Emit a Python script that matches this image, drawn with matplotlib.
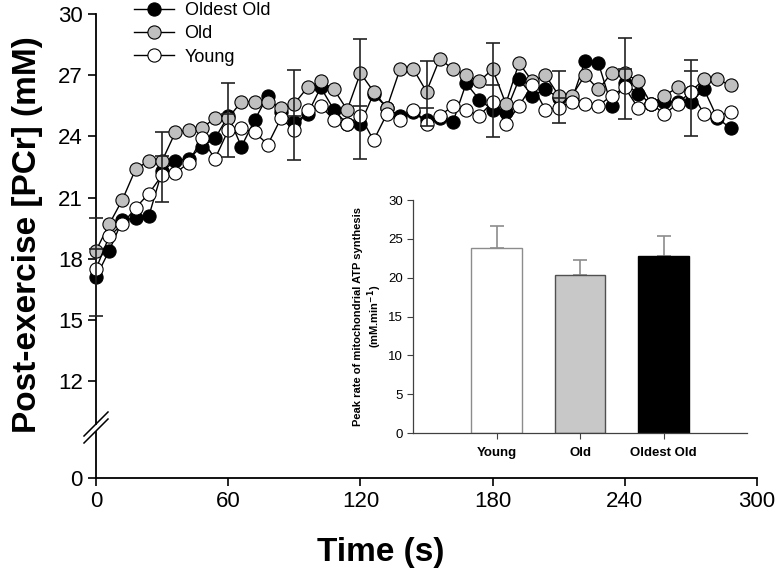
import matplotlib
matplotlib.use('Agg')
import matplotlib.pyplot as plt
from matplotlib.lines import Line2D

plt.rcParams['font.family'] = ['Liberation Sans', 'DejaVu Sans']

# PCr recovery, sampled every 6 s
time = list(range(0, 289, 6))

oldest_old = [17.1, 18.4, 19.9, 20.0, 20.1, 22.3, 22.8, 22.9, 23.5, 23.9,
              25.0, 23.5, 24.8, 26.0, 25.2, 24.7, 25.1, 26.4, 25.3, 24.6,
              24.6, 26.1, 25.4, 25.0, 25.2, 24.8, 24.9, 24.7, 26.6, 25.8,
              25.3, 25.2, 26.8, 26.0, 26.3, 25.9, 25.8, 27.7, 27.6, 25.5,
              26.6, 26.1, 25.6, 25.7, 25.7, 25.7, 26.3, 24.9, 24.4]

old = [18.4, 19.7, 20.9, 22.4, 22.8, 22.8, 24.2, 24.3, 24.4, 24.9,
       24.9, 25.7, 25.7, 25.7, 25.4, 25.6, 26.4, 26.7, 26.3, 25.3,
       27.1, 26.2, 25.4, 27.3, 27.3, 26.2, 27.8, 27.3, 27.0, 26.7,
       27.3, 25.6, 27.6, 26.7, 27.0, 26.0, 26.0, 27.0, 26.3, 27.1,
       27.1, 26.7, 25.6, 26.0, 26.4, 26.2, 26.8, 26.8, 26.5]

young = [17.5, 19.1, 19.7, 20.5, 21.2, 22.1, 22.2, 22.7, 23.9, 22.9,
         24.3, 24.4, 24.2, 23.6, 24.9, 24.3, 25.3, 25.5, 24.8, 24.6,
         25.0, 23.8, 25.1, 24.8, 25.3, 24.6, 25.0, 25.5, 25.3, 25.0,
         25.7, 24.6, 25.5, 26.5, 25.3, 25.4, 25.7, 25.6, 25.5, 26.0,
         26.4, 25.4, 25.6, 25.1, 25.6, 26.2, 25.1, 25.0, 25.2]

# error bars every 30 s (upper, middle and lower caps)
eb_time = [0, 30, 60, 90, 120, 150, 180, 210, 240, 270]
eb_hi = [20.0, 24.2, 26.6, 27.25, 28.75, 27.7, 28.6, 27.2, 28.8, 27.75]
eb_mid = [18.5, 23.05, 25.1, 25.0, 25.5, 25.4, 26.5, 25.9, 27.3, 27.2]
eb_lo = [15.2, 20.8, 23.0, 22.85, 22.9, 24.5, 23.95, 24.65, 24.85, 24.0]

# inset: peak rate of mitochondrial ATP synthesis
groups = ['Young', 'Old', 'Oldest Old']
rates = [23.8, 20.3, 22.85]
rate_err = [2.9, 2.0, 2.5]

W, H = 780, 576


def box(x0, y0, x1, y1):
    return [x0 / W, 1 - y1 / H, (x1 - x0) / W, (y1 - y0) / H]


fig = plt.figure(figsize=(7.8, 5.76), dpi=100)

ppm = 20.4  # pixels per mM
ax = fig.add_axes(box(96, 14, 757, 424))
axb = fig.add_axes(box(96, 432, 757, 478))

ax.set_xlim(0, 300)
axb.set_xlim(0, 300)
ax.set_ylim(30 - (424 - 14) / ppm, 30)
axb.set_ylim(0, (478 - 432) / ppm)

for a in (ax, axb):
    a.spines['top'].set_visible(False)
    a.spines['right'].set_visible(False)
    a.spines['left'].set_linewidth(1.3)
    a.tick_params(width=1.2, length=6, labelsize=16, direction='out')
ax.spines['bottom'].set_visible(False)
axb.spines['bottom'].set_linewidth(1.3)
ax.set_xticks([])
ax.set_yticks([12, 15, 18, 21, 24, 27, 30])
axb.set_yticks([0])
axb.set_xticks([0, 60, 120, 180, 240, 300])

ms = 9.5
ax.plot(time, oldest_old, '-o', color='black', lw=1.0, ms=ms,
        mfc='black', mec='black', mew=0.8, label='Oldest Old', clip_on=False, zorder=3)
ax.plot(time, old, '-o', color='black', lw=1.0, ms=ms,
        mfc='#c0c0c0', mec='black', mew=0.8, label='Old', clip_on=False, zorder=3)
ax.plot(time, young, '-o', color='black', lw=1.0, ms=ms,
        mfc='white', mec='black', mew=0.8, label='Young', clip_on=False, zorder=3)

ax.vlines(eb_time, eb_lo, eb_hi, color='#222222', lw=1.2, zorder=4, clip_on=False)
for caps in (eb_hi, eb_mid, eb_lo):
    ax.plot(eb_time, caps, '_', color='#222222', ms=10, mew=1.2, zorder=4, clip_on=False)

# axis break marks
for yc in (424, 431):
    fig.add_artist(Line2D([84 / W, 108 / W], [1 - (yc + 12) / H, 1 - (yc - 12) / H],
                          transform=fig.transFigure, color='black', lw=1.1))

fig.legend(loc='upper left', bbox_to_anchor=(134 / W, 1 - 2 / H), frameon=False,
           fontsize=13, handlelength=2.2, handletextpad=0.6, labelspacing=0.35,
           borderpad=0, borderaxespad=0, numpoints=1)

fig.text(28 / W, 1 - 235 / H, 'Post-exercise [PCr] (mM)', rotation=90,
         ha='center', va='center', fontsize=24, fontweight='bold')
fig.text(381 / W, 1 - 552 / H, 'Time (s)', ha='center', va='center',
         fontsize=24, fontweight='bold')

# inset bar chart
ins = fig.add_axes(box(413, 200, 747, 433))
xpos = [1, 2, 3]
ins.bar(xpos, rates, width=0.61, color=['white', '#c8c8c8', 'black'],
        edgecolor=['#8c8c8c', '#505050', 'black'], linewidth=1.0, zorder=2)
ins.errorbar(xpos, rates, yerr=[[0, 0, 0], rate_err], fmt='none',
             ecolor='#8c8c8c', elinewidth=1.2, capsize=5, capthick=1.2, zorder=1)
ins.set_xlim(0, 4)
ins.set_ylim(0, 30)
ins.set_yticks([0, 5, 10, 15, 20, 25, 30])
ins.set_xticks(xpos)
ins.set_xticklabels(groups, fontweight='bold')
ins.spines['top'].set_visible(False)
ins.spines['right'].set_visible(False)
for s in ('left', 'bottom'):
    ins.spines[s].set_color('#404040')
    ins.spines[s].set_linewidth(0.9)
ins.tick_params(labelsize=9.5, length=4, width=0.8, color='#404040', pad=3)
ins.tick_params(axis='x', pad=6)
ins.set_ylabel('Peak rate of mitochondrial ATP synthesis\n(mM.min$^{\\mathbf{-1}}$)',
               fontsize=8, fontweight='bold', labelpad=3)

fig.savefig('out.png', dpi=100)
